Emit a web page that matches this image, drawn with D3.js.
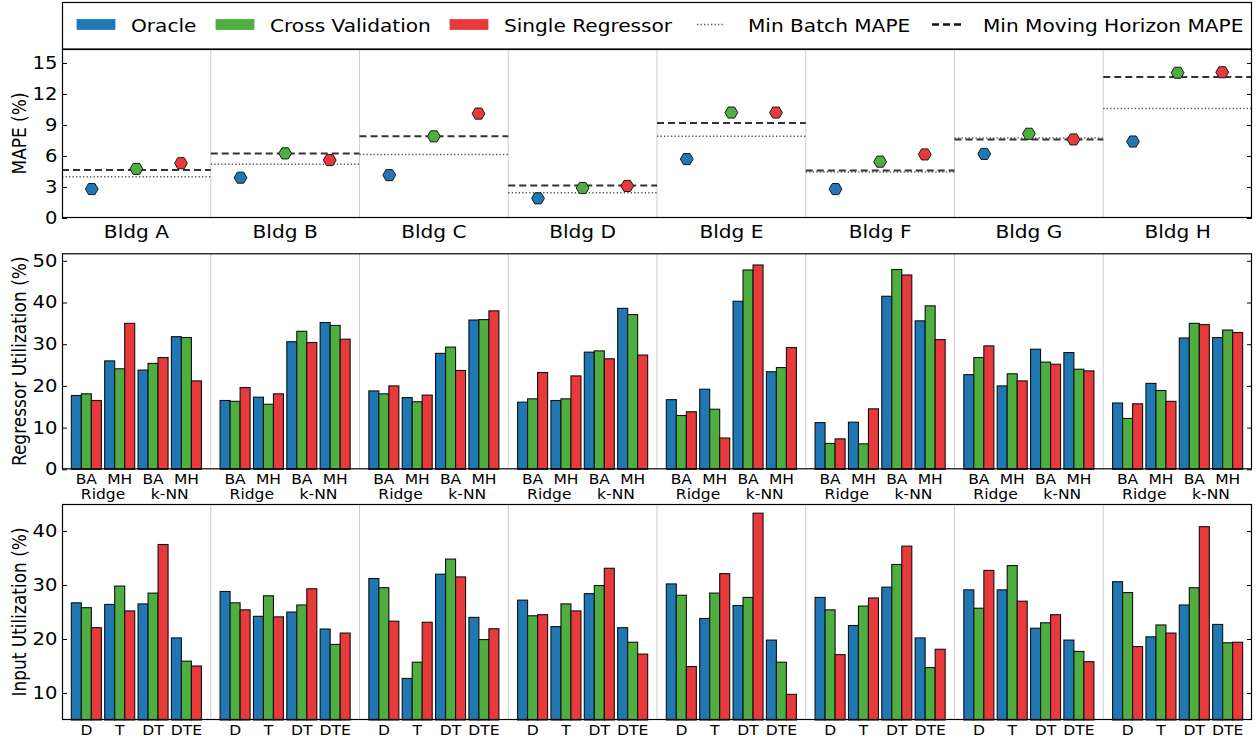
<!DOCTYPE html>
<html>
<head>
<meta charset="utf-8">
<script src="https://cdn.jsdelivr.net/npm/d3@7"></script>
<style>
  body { margin: 0; background: #fff; }
  svg { display: block; font-family: "DejaVu Sans", sans-serif; }
</style>
</head>
<body>
<div id="chart"></div>
<script>
// Model selection results per building: MAPE, regressor use, input use

const buildings = ['Bldg A', 'Bldg B', 'Bldg C', 'Bldg D', 'Bldg E', 'Bldg F', 'Bldg G', 'Bldg H'];
const methods = ['Oracle', 'Cross Validation', 'Single Regressor'];

// top panel (MAPE %)
const mapeOracle = [2.8, 3.9, 4.15, 1.9, 5.7, 2.8, 6.2, 7.4];
const mapeCV = [4.75, 6.25, 7.9, 2.9, 10.2, 5.45, 8.15, 14.05];
const mapeSingle = [5.3, 5.6, 10.1, 3.1, 10.2, 6.15, 7.6, 14.1];
const minBatchMape = [4.0, 5.2, 6.15, 2.45, 7.9, 4.45, 7.75, 10.6];
const minMHMape = [4.65, 6.25, 7.9, 3.15, 9.2, 4.6, 7.6, 13.65];
const mapeTicks = [0, 3, 6, 9, 12, 15];

// middle panel (regressor utilization %), per building: BA Ridge, MH Ridge, BA k-NN, MH k-NN
const regLabels = ['BA', 'MH', 'BA', 'MH'];
const regFamilies = ['Ridge', 'k-NN'];
const regOracle = [
    [17.7, 26.0, 23.8, 31.8], [16.5, 17.3, 30.6, 35.2], [18.8, 17.2, 27.8, 35.8], [16.1, 16.5, 28.1, 38.6],
    [16.7, 19.2, 40.3, 23.4], [11.2, 11.3, 41.5, 35.6], [22.7, 20.0, 28.8, 28.0], [15.9, 20.6, 31.5, 31.6]
];
const regCV = [
    [18.1, 24.1, 25.4, 31.6], [16.3, 15.6, 33.1, 34.5], [18.1, 16.2, 29.3, 35.9], [16.9, 16.9, 28.4, 37.1],
    [12.9, 14.4, 47.8, 24.4], [6.2, 6.1, 47.9, 39.2], [26.8, 22.9, 25.7, 24.0], [12.2, 18.9, 35.0, 33.4]
];
const regSingle = [
    [16.5, 35.0, 26.8, 21.2], [19.6, 18.1, 30.4, 31.2], [20.0, 17.8, 23.7, 38.0], [23.2, 22.4, 26.5, 27.4],
    [13.8, 7.5, 49.0, 29.2], [7.3, 14.5, 46.6, 31.1], [29.6, 21.2, 25.2, 23.6], [15.7, 16.3, 34.7, 32.8]
];
const regTicks = [0, 10, 20, 30, 40, 50];

// bottom panel (input utilization %), per building: D, T, DT, DTE
const inputLabels = ['D', 'T', 'DT', 'DTE'];
const inOracle = [
    [26.7, 26.4, 26.5, 20.2], [28.8, 24.2, 25.0, 21.85], [31.2, 12.7, 32.0, 24.0], [27.2, 22.3, 28.4, 22.1],
    [30.2, 23.8, 26.2, 19.8], [27.7, 22.5, 29.6, 20.2], [29.1, 29.1, 22.0, 19.8], [30.6, 20.4, 26.3, 22.7]
];
const inCV = [
    [25.8, 29.8, 28.5, 15.9], [26.7, 28.0, 26.3, 19.0], [29.5, 15.7, 34.8, 19.9], [24.3, 26.5, 29.9, 19.4],
    [28.1, 28.5, 27.7, 15.7], [25.4, 26.1, 33.8, 14.7], [25.7, 33.6, 23.0, 17.7], [28.6, 22.6, 29.5, 19.3]
];
const inSingle = [
    [22.1, 25.2, 37.5, 15.0], [25.4, 24.1, 29.3, 21.1], [23.3, 23.1, 31.5, 21.9], [24.5, 25.2, 33.1, 17.2],
    [14.9, 32.1, 43.3, 9.75], [17.1, 27.6, 37.2, 18.1], [32.7, 27.0, 24.5, 15.8], [18.6, 21.1, 40.8, 19.4]
];
const inputTicks = [10, 20, 30, 40];

const colors = ['#1f77b4', '#4eae3f', '#e8393b'];
const SX = 1.15;   // the reference is stretched a bit horizontally

const width = 1258, height = 740;
const left = 62, right = 1252;

const svg = d3.select('#chart').append('svg')
    .attr('width', width)
    .attr('height', height);

function label(g, x, y, s, size, anchor, rotate) {
    return g.append('text')
        .attr('transform', `translate(${x},${y}) scale(${SX},1)` + (rotate ? ' rotate(-90)' : ''))
        .attr('text-anchor', anchor || 'middle')
        .style('font-size', size + 'px')
        .attr('fill', '#000')
        .text(s);
}

// shared x scales
const xB = d3.scaleBand().domain(buildings).range([left, right]);
const bw = xB.bandwidth();
const xGroup = d3.scaleBand().domain(d3.range(4)).range([0, bw]).paddingInner(0.1).paddingOuter(0.28);
const xBar = d3.scaleBand().domain(methods).range([0, xGroup.bandwidth()]);
const xMark = d3.scaleLinear().domain([0, 1]).range([0, bw]);
const markOffsets = [0.2, 0.5, 0.8];

function panelFrame(yScale, ticks, title) {
    const [y1, y0] = yScale.range();
    const g = svg.append('g');
    // building separators
    g.selectAll('.sep')
        .data(buildings.slice(1))
        .enter().append('line')
        .attr('x1', d => xB(d)).attr('x2', d => xB(d))
        .attr('y1', y0).attr('y2', y1)
        .attr('stroke', '#cfcfcf').attr('stroke-width', 1);

    const yAxis = g.append('g')
        .attr('transform', `translate(${left},0)`)
        .call(d3.axisLeft(yScale).tickValues(ticks).tickSize(-5).tickPadding(4));
    yAxis.select('.domain').remove();
    yAxis.selectAll('text')
        .attr('transform', `scale(${SX},1)`)
        .style('font-size', '17px')
        .style('font-family', '"DejaVu Sans", sans-serif')
        .attr('fill', '#000');

    const yAxisR = g.append('g')
        .attr('transform', `translate(${right},0)`)
        .call(d3.axisRight(yScale).tickValues(ticks).tickSize(-5).tickFormat(''));
    yAxisR.select('.domain').remove();

    label(svg, 26, (y0 + y1) / 2, title, 17, 'middle', true);
    return g;
}

function frame(yScale) {
    const [y1, y0] = yScale.range();
    svg.append('rect')
        .attr('x', left + 0.5).attr('y', y0 + 0.5)
        .attr('width', right - left - 1).attr('height', y1 - y0 - 1)
        .attr('fill', 'none').attr('stroke', '#000').attr('stroke-width', 1.2);
}

// ---------- top panel: MAPE ----------
const yMape = d3.scaleLinear().domain([0, 16.35]).range([218, 49]);
panelFrame(yMape, mapeTicks, 'MAPE (%)');

const lineData = buildings.map((b, i) => ({ b, batch: minBatchMape[i], mh: minMHMape[i] }));
svg.append('g').selectAll('line')
    .data(lineData)
    .enter().append('line')
    .attr('x1', d => xB(d.b)).attr('x2', d => xB(d.b) + bw)
    .attr('y1', d => yMape(d.batch)).attr('y2', d => yMape(d.batch))
    .attr('stroke', '#555').attr('stroke-width', 1.5)
    .attr('stroke-dasharray', '1.3,2.2');
svg.append('g').selectAll('line')
    .data(lineData)
    .enter().append('line')
    .attr('x1', d => xB(d.b)).attr('x2', d => xB(d.b) + bw)
    .attr('y1', d => yMape(d.mh)).attr('y2', d => yMape(d.mh))
    .attr('stroke', '#333').attr('stroke-width', 2)
    .attr('stroke-dasharray', '7,4');

const hexR = 6.4;
const hexPath = d3.line()(d3.range(6).map(k => {
    const a = k * Math.PI / 3;
    return [hexR * Math.cos(a), hexR * Math.sin(a)];
})) + 'Z';

const mapeSeries = [mapeOracle, mapeCV, mapeSingle];
const markers = [];
mapeSeries.forEach((vals, m) => vals.forEach((v, i) => markers.push({ b: buildings[i], m, v })));
svg.append('g').selectAll('path')
    .data(markers)
    .enter().append('path')
    .attr('d', hexPath)
    .attr('transform', d => `translate(${xB(d.b) + xMark(markOffsets[d.m])},${yMape(d.v)})`)
    .attr('fill', d => colors[d.m])
    .attr('stroke', '#1a1a1a').attr('stroke-width', 1);

frame(yMape);
buildings.forEach(b => label(svg, xB(b) + bw / 2, 238, b, 17.5));

// ---------- grouped bar panels ----------
function barPanel(yScale, ticks, title, series) {
    panelFrame(yScale, ticks, title);
    const base = yScale.range()[0];
    const bars = [];
    series.forEach((rows, m) => rows.forEach((row, i) => row.forEach((v, k) => {
        bars.push({ b: buildings[i], k, m, v });
    })));
    svg.append('g').selectAll('rect')
        .data(bars)
        .enter().append('rect')
        .attr('x', d => xB(d.b) + xGroup(d.k) + xBar(methods[d.m]))
        .attr('width', xBar.bandwidth())
        .attr('y', d => yScale(d.v))
        .attr('height', d => base - yScale(d.v))
        .attr('fill', d => colors[d.m])
        .attr('stroke', '#111').attr('stroke-width', 1.1);
    frame(yScale);
}

const yReg = d3.scaleLinear().domain([0, 51.8]).range([469.3, 253.3]);
barPanel(yReg, regTicks, 'Regressor Utilization (%)', [regOracle, regCV, regSingle]);
buildings.forEach(b => {
    regLabels.forEach((s, k) => label(svg, xB(b) + xGroup(k) + xGroup.bandwidth() / 2, 484, s, 13.5));
    regFamilies.forEach((s, f) => {
        const cx = (xGroup(2 * f) + xGroup(2 * f + 1) + xGroup.bandwidth()) / 2;
        label(svg, xB(b) + cx, 499, s, 13.5);
    });
});

const yIn = d3.scaleLinear().domain([5, 45]).range([720, 504]);
barPanel(yIn, inputTicks, 'Input Utilization (%)', [inOracle, inCV, inSingle]);
buildings.forEach(b => {
    inputLabels.forEach((s, k) => label(svg, xB(b) + xGroup(k) + xGroup.bandwidth() / 2, 735, s, 13.5));
});

// ---------- legend ----------
const legend = svg.append('g');
legend.append('rect')
    .attr('x', left + 0.5).attr('y', 2.5)
    .attr('width', right - left - 1).attr('height', 46.5)
    .attr('fill', '#fff').attr('stroke', '#000').attr('stroke-width', 1.2);

const legendItems = [
    { name: methods[0], kind: 'bar', color: colors[0], x: 77 },
    { name: methods[1], kind: 'bar', color: colors[1], x: 216 },
    { name: methods[2], kind: 'bar', color: colors[2], x: 450 },
    { name: 'Min Batch MAPE', kind: 'dot', x: 697 },
    { name: 'Min Moving Horizon MAPE', kind: 'dash', x: 932 }
];
legendItems.forEach(it => {
    if (it.kind === 'bar') {
        legend.append('rect')
            .attr('x', it.x).attr('y', 19.5).attr('width', 38).attr('height', 10)
            .attr('fill', it.color).attr('stroke', it.color).attr('stroke-width', 0.8);
        label(legend, it.x + 54, 31.5, it.name, 17.5, 'start');
    } else {
        legend.append('line')
            .attr('x1', it.x).attr('x2', it.x + (it.kind === 'dot' ? 28 : 31))
            .attr('y1', 24.5).attr('y2', 24.5)
            .attr('stroke', it.kind === 'dot' ? '#555' : '#111')
            .attr('stroke-width', it.kind === 'dot' ? 1.5 : 2.5)
            .attr('stroke-dasharray', it.kind === 'dot' ? '1.3,2.2' : '7,4');
        label(legend, it.x + 51, 31.5, it.name, 17.5, 'start');
    }
});
</script>
</body>
</html>
